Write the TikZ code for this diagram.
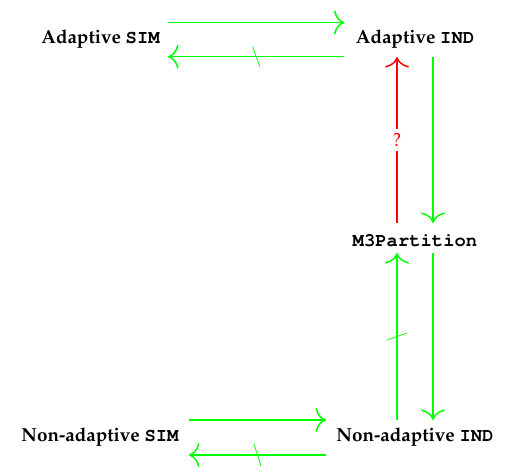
\documentclass[tikz,border=0pt]{standalone}
\usepackage[T1]{fontenc}
\usepackage{mathpazo}
\usepackage{courier}
\usetikzlibrary{arrows.meta}
\definecolor{arrgreen}{RGB}{0,255,0}
\definecolor{arrred}{RGB}{255,0,0}
\tikzset{
  lbl/.style={inner sep=0pt, anchor=base, font=\bfseries},
  arr/.style={draw=arrgreen, line width=0.8pt, -{Computer Modern Rightarrow[length=5.6pt,width=12.7pt]}},
  redarr/.style={arr, draw=arrred},
  slash/.style={draw=arrgreen, line width=0.4pt},
}
\begin{document}
\begin{tikzpicture}[x=0.53pt,y=-0.53pt]
\useasboundingbox (0,0) rectangle (518,473);
\node[lbl] (as) at (100.5,44) {Adaptive \texttt{SIM}};
\node[lbl] (ai) at (415,44) {Adaptive \texttt{IND}};
\node[lbl] (m3) at (415,246) {\texttt{M3Partition}};
\node[lbl] (nas) at (100,441.5) {Non-adaptive \texttt{SIM}};
\node[lbl] (nai) at (415,441.5) {Non-adaptive \texttt{IND}};
% top row
\draw[arr] ([shift={(8,-21.5)}]as.base east) -- ([shift={(-11,-21.5)}]ai.base west);
\draw[arr] ([shift={(-11,12.7)}]ai.base west) -- ([shift={(8,12.7)}]as.base east) coordinate[midway] (s1);
\draw[slash] ([shift={(-3.5,-10)}]s1) -- ([shift={(3.5,10)}]s1);
% right column upper
\draw[redarr] ([shift={(-18,-23)}]m3.base) -- ([shift={(-18,13)}]ai.base)
  node[midway, fill=white, inner xsep=2.2pt, inner ysep=2.5pt, text=arrred, font=\normalsize] (q) {?};
\draw[arr] ([shift={(18,13)}]ai.base) -- ([shift={(18,-23)}]m3.base);
% right column lower
\draw[arr] ([shift={(-18,-21.5)}]nai.base) -- ([shift={(-18,7)}]m3.base) coordinate[midway] (s2);
\draw[slash] ([shift={(-10,3.5)}]s2) -- ([shift={(10,-3.5)}]s2);
\draw[arr] ([shift={(18,7)}]m3.base) -- ([shift={(18,-21.5)}]nai.base);
% bottom row
\draw[arr] ([shift={(10,-21.5)}]nas.base east) -- ([shift={(-10,-21.5)}]nai.base west);
\draw[arr] ([shift={(-10,13.5)}]nai.base west) -- ([shift={(10,13.5)}]nas.base east) coordinate[midway] (s3);
\draw[slash] ([shift={(-3.5,-11)}]s3) -- ([shift={(3.5,11)}]s3);
\end{tikzpicture}
\end{document}
